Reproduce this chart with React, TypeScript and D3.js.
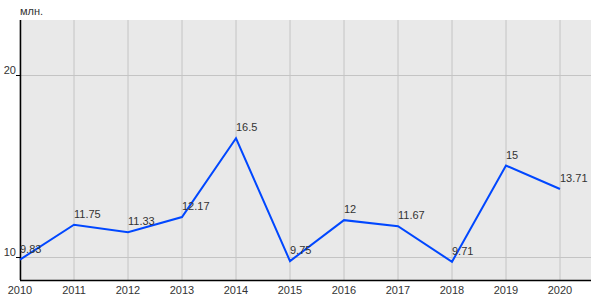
import React from "react";
import * as d3 from "d3";

const years = ["2010","2011","2012","2013","2014","2015","2016","2017","2018","2019","2020"];
const values = [9.83, 11.75, 11.33, 12.17, 16.5, 9.75, 12, 11.67, 9.71, 15, 13.71];
const labels = ["9.83","11.75","11.33","12.17","16.5","9.75","12","11.67","9.71","15","13.71"];
const yTicks = [10, 20];
const unitLabel = "млн.";

export default function App() {
  const W = 600, H = 300;
  const left = 20, right = 591, top = 20, bottom = 280;
  const x = d3.scalePoint<string>().domain(years).range([left, 560]);
  const y = d3.scaleLinear().domain([8.71, 23]).range([bottom, top]);
  const line = d3.line<number>().x((_, i) => x(years[i])!).y(d => y(d));
  const font = "'Liberation Sans', Arial, sans-serif";
  return (
    <svg width={W} height={H} style={{ position: "absolute", left: 0, top: 0 }} fontFamily={font}>
      <rect x={left} y={top} width={right - left} height={bottom - top} fill="#e9e9e9" />
      {years.map(yr => (
        <line key={yr} x1={x(yr)} x2={x(yr)} y1={top} y2={bottom} stroke="#c4c4c4" strokeWidth={1} />
      ))}
      {yTicks.map(t => (
        <g key={t}>
          <line x1={left} x2={right} y1={Math.round(y(t)) + 0.5} y2={Math.round(y(t)) + 0.5} stroke="#c4c4c4" />
          <line x1={left - 4} x2={left} y1={Math.round(y(t)) + 0.5} y2={Math.round(y(t)) + 0.5} stroke="#000" />
          <text x={left - 4} y={y(t) - 1} textAnchor="end" fontSize={11} fill="#333">{t}</text>
        </g>
      ))}
      <line x1={left + 0.5} x2={left + 0.5} y1={top} y2={bottom} stroke="#000" strokeWidth={1.5} />
      <line x1={left} x2={right} y1={bottom + 0.5} y2={bottom + 0.5} stroke="#000" strokeWidth={1.5} />
      {years.map(yr => (
        <text key={yr} x={x(yr)} y={294} textAnchor="middle" fontSize={11} fill="#333">{yr}</text>
      ))}
      <path d={line(values)!} fill="none" stroke="#0047ff" strokeWidth={2} />
      {values.map((v, i) => (
        <text key={i} x={x(years[i])} y={y(v) - 7} fontSize={11} fill="#333">{labels[i]}</text>
      ))}
      <text x={20} y={15} fontSize={11} fill="#333">{unitLabel}</text>
    </svg>
  );
}
